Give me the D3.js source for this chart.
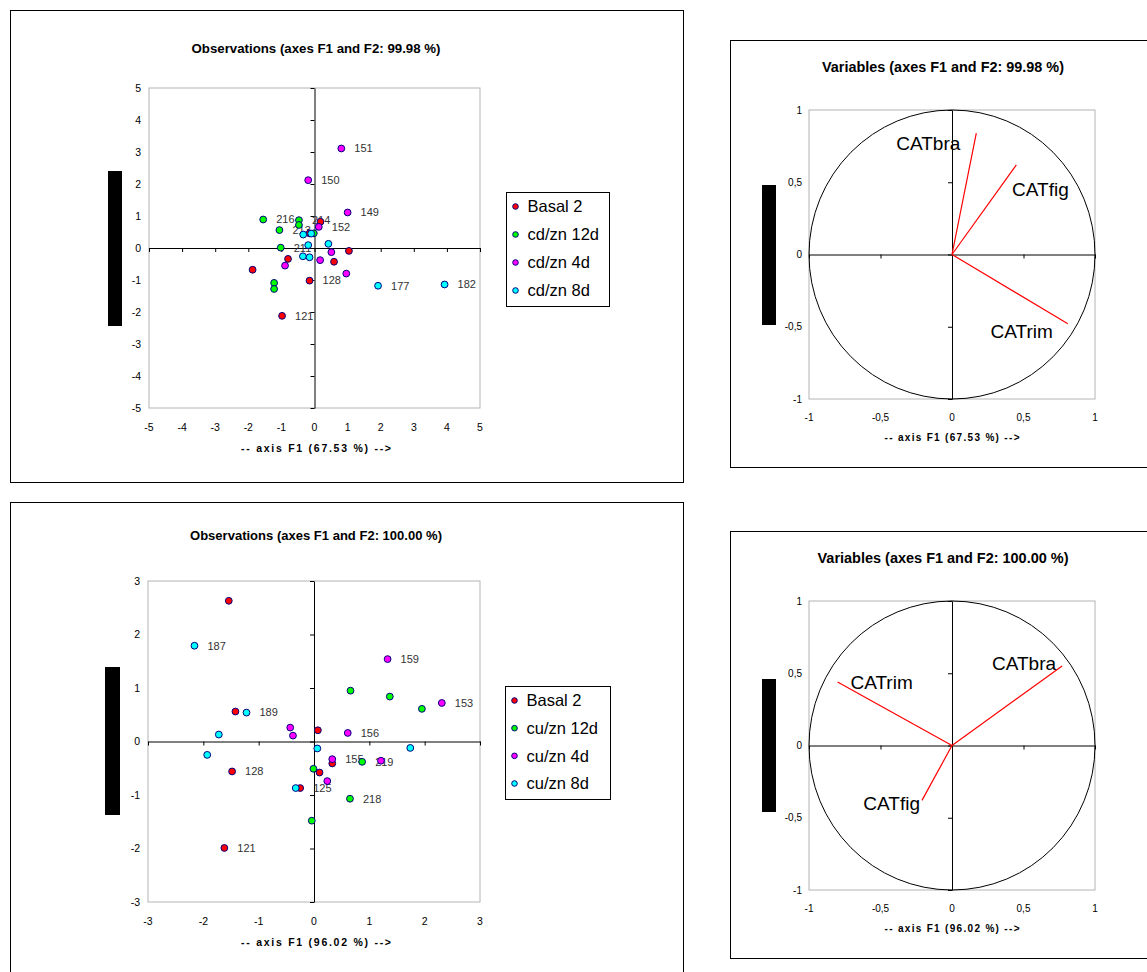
<!DOCTYPE html>
<html><head><meta charset="utf-8">
<script src="https://cdn.jsdelivr.net/npm/d3@7"></script>
<style>
body{margin:0;background:#fff}
svg{display:block}
text{font-family:"Liberation Sans",Arial,sans-serif}
</style>
</head><body>
<script>
// ---------------- DATA ----------------
// Observations, top (cd/zn): [F1, F2, label]
const obsTopBasal = [[0.18,0.82,""],[-0.15,0.46,""],[1.04,-0.09,""],[-0.80,-0.34,""],[0.59,-0.43,""],[-1.87,-0.68,""],[-0.15,-1.02,"128"],[-0.98,-2.12,"121"]];
const obsTop12d   = [[-1.55,0.89,"216"],[-0.47,0.87,"214"],[-0.47,0.72,""],[-1.06,0.56,"213"],[-0.02,0.46,""],[-1.02,0.01,"211"],[-1.22,-1.09,""],[-1.22,-1.28,""]];
const obsTop4d    = [[0.81,3.11,"151"],[-0.19,2.12,"150"],[1.00,1.11,"149"],[0.13,0.66,"152"],[0.51,-0.13,""],[0.17,-0.38,""],[-0.89,-0.55,""],[0.96,-0.80,""]];
const obsTop8d    = [[-0.34,0.42,""],[-0.10,0.45,""],[-0.19,0.09,""],[0.42,0.13,""],[-0.35,-0.26,""],[-0.15,-0.29,""],[1.92,-1.18,"177"],[3.93,-1.14,"182"]];
const legendTop = ["Basal 2","cd/zn 12d","cd/zn 4d","cd/zn 8d"];

// Observations, bottom (cu/zn)
const obsBotBasal = [[-1.54,2.63,""],[-1.42,0.56,""],[0.07,0.21,""],[0.33,-0.41,""],[-1.48,-0.56,"128"],[0.10,-0.58,""],[-0.25,-0.87,"125"],[-1.62,-1.99,"121"]];
const obsBot12d   = [[0.66,0.95,""],[1.37,0.84,""],[1.95,0.61,""],[-0.01,-0.51,""],[0.87,-0.38,"219"],[0.65,-1.07,"218"],[-0.04,-1.48,""]];
const obsBot4d    = [[1.33,1.54,"159"],[2.31,0.72,"153"],[0.61,0.16,"156"],[-0.43,0.26,""],[-0.38,0.11,""],[0.33,-0.33,"155"],[1.21,-0.36,""],[0.24,-0.74,""]];
const obsBot8d    = [[-2.16,1.79,"187"],[-1.22,0.54,"189"],[-1.72,0.13,""],[-1.93,-0.25,""],[0.06,-0.13,""],[1.74,-0.12,""],[-0.33,-0.87,""]];
const legendBot = ["Basal 2","cu/zn 12d","cu/zn 4d","cu/zn 8d"];

// Variables (correlation circles): [name, F1, F2]
const varTop = [["CATbra",0.17,0.84],["CATfig",0.45,0.62],["CATrim",0.81,-0.48]];
const varBot = [["CATbra",0.77,0.55],["CATrim",-0.80,0.44],["CATfig",-0.21,-0.38]];
// label anchor points (data units)
const varTopLabels = [[-0.39,0.77],[0.42,0.45],[0.27,-0.53]];
const varBotLabels = [[0.28,0.57],[-0.71,0.44],[-0.62,-0.40]];

const obsTicksTop = [-5,-4,-3,-2,-1,0,1,2,3,4,5];
const obsTicksBot = [-3,-2,-1,0,1,2,3];
const varTicks = [-1,-0.5,0,0.5,1];

const titles = {
  obsTop:"Observations (axes F1 and F2: 99.98 %)",
  obsBot:"Observations (axes F1 and F2: 100.00 %)",
  varTop:"Variables (axes F1 and F2: 99.98 %)",
  varBot:"Variables (axes F1 and F2: 100.00 %)",
  axTop:"-- axis F1 (67.53 %) -->",
  axBot:"-- axis F1 (96.02 %) -->"
};

// ---------------- DRAW ----------------
const fills = ["#ff0000","#00ff00","#ff00ff","#00ffff"];
const svg = d3.select("body").append("svg").attr("width",1147).attr("height",972);

function zeroAxes(g, x, y, ticks){
  const ax = g.append("g").attr("transform",`translate(0,${y(0)})`)
    .call(d3.axisBottom(x).tickValues(ticks).tickSize(4).tickSizeOuter(0).tickFormat(""));
  const ay = g.append("g").attr("transform",`translate(${x(0)},0)`)
    .call(d3.axisLeft(y).tickValues(ticks).tickSize(4).tickSizeOuter(0).tickFormat(""));
  [ax,ay].forEach(a=>{a.selectAll("path,line").attr("stroke","#000").attr("stroke-width",1);});
}

function tickLabels(g, x, y, ticks, fmt, xLabY, yLabX, fs){
  g.append("g").selectAll("text").data(ticks).join("text")
    .attr("x",d=>x(d)).attr("y",xLabY).attr("dy","0.35em")
    .attr("text-anchor","middle").attr("font-size",fs).attr("fill","#000").text(fmt);
  g.append("g").selectAll("text").data(ticks).join("text")
    .attr("x",yLabX).attr("y",d=>y(d)).attr("dy","0.35em")
    .attr("text-anchor","end").attr("font-size",fs).attr("fill","#000").text(fmt);
}

function obsPanel(c){
  const g = svg.append("g");
  g.append("rect").attr("x",c.frame[0]).attr("y",c.frame[1]).attr("width",c.frame[2]).attr("height",c.frame[3])
    .attr("fill","#fff").attr("stroke","#000").attr("stroke-width",1);
  g.append("text").attr("x",c.cx).attr("y",c.titleY).attr("dy","0.35em").attr("text-anchor","middle")
    .attr("font-size",13.5).attr("font-weight","bold").attr("textLength",c.titleW).attr("lengthAdjust","spacingAndGlyphs").text(c.title);
  const x = d3.scaleLinear().domain(c.xd).range(c.xr);
  const y = d3.scaleLinear().domain(c.yd).range(c.yr);
  g.append("rect").attr("x",c.xr[0]).attr("y",c.yr[1]).attr("width",c.xr[1]-c.xr[0]).attr("height",c.yr[0]-c.yr[1])
    .attr("fill","none").attr("stroke","#b4b4b4").attr("stroke-width",1);
  zeroAxes(g,x,y,c.ticks);
  tickLabels(g,x,y,c.ticks,d=>String(d),c.yr[0]+19,c.xr[0]-8,10.5);
  g.append("text").attr("x",c.cx).attr("y",c.yr[0]+40).attr("dy","0.35em").attr("text-anchor","middle")
    .attr("font-size",10.5).attr("font-weight","bold").attr("textLength",150).attr("lengthAdjust","spacing").text(c.axTitle);
  g.append("rect").attr("x",c.bar[0]).attr("y",c.bar[1]).attr("width",c.bar[2]).attr("height",c.bar[3]).attr("fill","#000");
  // labels then points
  c.series.forEach(s=>{
    g.append("g").selectAll("text").data(s.filter(d=>d[2])).join("text")
      .attr("x",d=>x(d[0])+13).attr("y",d=>y(d[1])).attr("dy","0.35em")
      .attr("font-size",11).attr("fill","#333").text(d=>d[2]);
  });
  c.series.forEach((s,i)=>{
    g.append("g").selectAll("circle").data(s).join("circle")
      .attr("cx",d=>x(d[0])).attr("cy",d=>y(d[1])).attr("r",3.4)
      .attr("fill",fills[i]).attr("stroke","#000080").attr("stroke-width",1);
  });
  // legend
  const L = c.legend;
  g.append("rect").attr("x",L.x).attr("y",L.y).attr("width",L.w).attr("height",L.h)
    .attr("fill","#fff").attr("stroke","#000").attr("stroke-width",1);
  const ly = d3.scalePoint().domain(c.names).range([L.y+14,L.y+L.h-16]);
  const lg = g.append("g").selectAll("g").data(c.names).join("g").attr("transform",d=>`translate(${L.x},${ly(d)})`);
  lg.append("circle").attr("cx",9).attr("r",2.8).attr("fill",(d,i)=>fills[i]).attr("stroke","#000080").attr("stroke-width",1);
  lg.append("text").attr("x",21).attr("dy","0.35em").attr("font-size",16.5).attr("fill","#000").text(d=>d);
}

function varPanel(c){
  const g = svg.append("g");
  g.append("rect").attr("x",c.frame[0]).attr("y",c.frame[1]).attr("width",c.frame[2]).attr("height",c.frame[3])
    .attr("fill","#fff").attr("stroke","#000").attr("stroke-width",1);
  g.append("text").attr("x",c.cx).attr("y",c.titleY).attr("dy","0.35em").attr("text-anchor","middle")
    .attr("font-size",14).attr("font-weight","bold").attr("textLength",c.titleW).attr("lengthAdjust","spacingAndGlyphs").text(c.title);
  const x = d3.scaleLinear().domain([-1,1]).range(c.xr);
  const y = d3.scaleLinear().domain([-1,1]).range(c.yr);
  g.append("rect").attr("x",c.xr[0]).attr("y",c.yr[1]).attr("width",c.xr[1]-c.xr[0]).attr("height",c.yr[0]-c.yr[1])
    .attr("fill","none").attr("stroke","#b4b4b4").attr("stroke-width",1);
  g.append("ellipse").attr("cx",x(0)).attr("cy",y(0)).attr("rx",x(1)-x(0)).attr("ry",y(0)-y(1))
    .attr("fill","none").attr("stroke","#000").attr("stroke-width",1);
  zeroAxes(g,x,y,varTicks);
  tickLabels(g,x,y,varTicks,d=>String(d).replace(".",","),c.yr[0]+18,c.xr[0]-7,10);
  g.append("text").attr("x",x(0)).attr("y",c.yr[0]+38).attr("dy","0.35em").attr("text-anchor","middle")
    .attr("font-size",10).attr("font-weight","bold").attr("textLength",135).attr("lengthAdjust","spacing").text(c.axTitle);
  g.append("rect").attr("x",c.bar[0]).attr("y",c.bar[1]).attr("width",c.bar[2]).attr("height",c.bar[3]).attr("fill","#000");
  g.append("g").selectAll("line").data(c.vars).join("line")
    .attr("x1",x(0)).attr("y1",y(0)).attr("x2",d=>x(d[1])).attr("y2",d=>y(d[2]))
    .attr("stroke","#ff0000").attr("stroke-width",1.2);
  g.append("g").selectAll("text").data(c.vars).join("text")
    .attr("x",(d,i)=>x(c.labels[i][0])).attr("y",(d,i)=>y(c.labels[i][1])).attr("dy","0.35em")
    .attr("font-size",19).attr("fill","#000").text(d=>d[0]);
}

obsPanel({frame:[10.5,10.5,673,472], cx:316, titleY:48, titleW:249, title:titles.obsTop,
  xd:[-5,5], xr:[149,480], yd:[-5,5], yr:[408,88], ticks:obsTicksTop, axTitle:titles.axTop,
  bar:[108,171,14,155], series:[obsTopBasal,obsTop12d,obsTop4d,obsTop8d], names:legendTop,
  legend:{x:506.5,y:192.5,w:103,h:114}});
obsPanel({frame:[10.5,502.5,673,475], cx:316, titleY:535, titleW:252, title:titles.obsBot,
  xd:[-3,3], xr:[148,480], yd:[-3,3], yr:[902,581], ticks:obsTicksBot, axTitle:titles.axBot,
  bar:[105,667,15,148], series:[obsBotBasal,obsBot12d,obsBot4d,obsBot8d], names:legendBot,
  legend:{x:505.5,y:686.5,w:105,h:113}});
varPanel({frame:[730.5,40.5,430,427], cx:943, titleY:67, titleW:242, title:titles.varTop,
  xr:[809,1095], yr:[399,110], axTitle:titles.axTop, bar:[762,185,14,140],
  vars:varTop, labels:varTopLabels});
varPanel({frame:[730.5,531.5,430,427], cx:943, titleY:558, titleW:251, title:titles.varBot,
  xr:[809,1095], yr:[890,601], axTitle:titles.axBot, bar:[762,679,14,133],
  vars:varBot, labels:varBotLabels});
</script>
</body></html>
